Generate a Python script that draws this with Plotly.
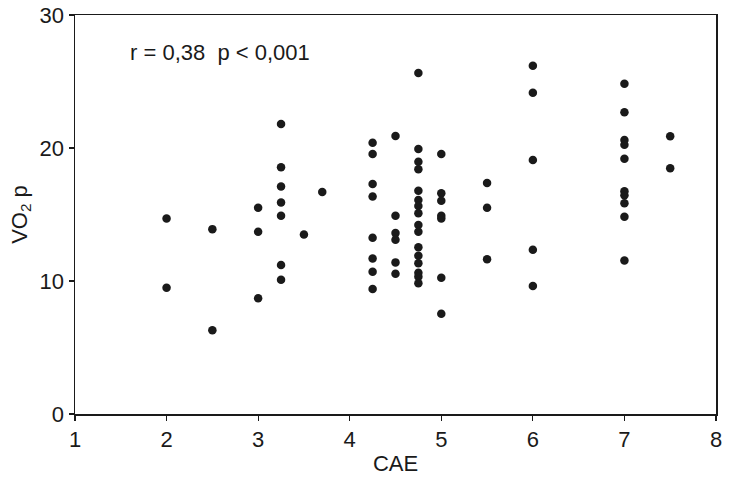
import plotly.graph_objects as go

# Data, column by column (CAE value, VO2 p values)
cae_levels = [2.0, 2.5, 3.0, 3.25, 3.5, 3.7, 4.25, 4.5, 4.75, 5.0, 5.5, 6.0, 7.0, 7.5]
vo2p_2_0 = [14.7, 9.5]
vo2p_2_5 = [13.9, 6.3]
vo2p_3_0 = [15.5, 13.7, 8.7]
vo2p_3_25 = [21.8, 18.55, 17.1, 15.9, 14.9, 11.2, 10.1]
vo2p_3_5 = [13.5]
vo2p_3_7 = [16.7]
vo2p_4_25 = [20.4, 19.55, 17.3, 16.35, 13.25, 11.7, 10.7, 9.4]
vo2p_4_5 = [20.9, 14.9, 13.6, 13.1, 11.4, 10.55]
vo2p_4_75 = [25.64, 19.92, 18.97, 18.40, 16.79, 16.09, 15.64, 15.09, 14.21, 13.71,
             12.53, 11.90, 11.33, 10.62, 10.32, 9.83]
vo2p_5_0 = [19.55, 16.59, 16.04, 14.9, 14.7, 10.25, 7.54]
vo2p_5_5 = [17.37, 15.51, 11.63]
vo2p_6_0 = [26.19, 24.16, 19.10, 12.35, 9.62]
vo2p_7_0 = [24.83, 22.68, 20.60, 20.25, 19.20, 16.75, 16.45, 15.84, 14.83, 11.55]
vo2p_7_5 = [20.88, 18.47]

x_ticks = [1, 2, 3, 4, 5, 6, 7, 8]
y_ticks = [0, 10, 20, 30]
stat_text = "r = 0,38  p < 0,001"
x_title = "CAE"
y_title = "VO<sub>2</sub> p"

groups = [vo2p_2_0, vo2p_2_5, vo2p_3_0, vo2p_3_25, vo2p_3_5, vo2p_3_7, vo2p_4_25,
          vo2p_4_5, vo2p_4_75, vo2p_5_0, vo2p_5_5, vo2p_6_0, vo2p_7_0, vo2p_7_5]
cae = [c for c, g in zip(cae_levels, groups) for _ in g]
vo2p = [v for g in groups for v in g]

font_family = "Liberation Sans, Arial, sans-serif"
ink = "#1a1a1a"

fig = go.Figure(
    go.Scatter(
        x=cae,
        y=vo2p,
        mode="markers",
        marker=dict(color=ink, size=8.5, line=dict(width=0)),
        hoverinfo="skip",
    )
)

fig.add_annotation(
    text=stat_text,
    xref="paper",
    yref="paper",
    x=0.082,
    y=0.905,
    xanchor="left",
    yanchor="middle",
    showarrow=False,
    font=dict(family=font_family, size=22, color=ink),
)

axis_common = dict(
    showgrid=False,
    zeroline=False,
    showline=True,
    linecolor=ink,
    linewidth=1.5,
    mirror=True,
    ticks="outside",
    ticklen=5,
    tickwidth=1.2,
    tickcolor=ink,
    automargin=False,
    ticklabeloverflow="allow",
    tickfont=dict(family=font_family, size=22, color=ink),
)

fig.update_layout(
    width=730,
    height=495,
    margin=dict(l=75, r=14, t=15, b=81),
    paper_bgcolor="white",
    plot_bgcolor="white",
    showlegend=False,
    hovermode=False,
    xaxis=dict(
        range=[1, 8],
        tickvals=x_ticks,
        title=dict(text=x_title, font=dict(family=font_family, size=22, color=ink), standoff=4),
        **axis_common,
    ),
    yaxis=dict(
        range=[0, 30],
        tickvals=y_ticks,
        title=dict(text=y_title, font=dict(family=font_family, size=22, color=ink), standoff=6),
        **axis_common,
    ),
)

# remove the default page margin so the figure fills the 730x495 window exactly
fig.write_html(
    "out.html",
    config={"displayModeBar": False, "staticPlot": True},
    post_script="document.body.style.margin='0';",
)
